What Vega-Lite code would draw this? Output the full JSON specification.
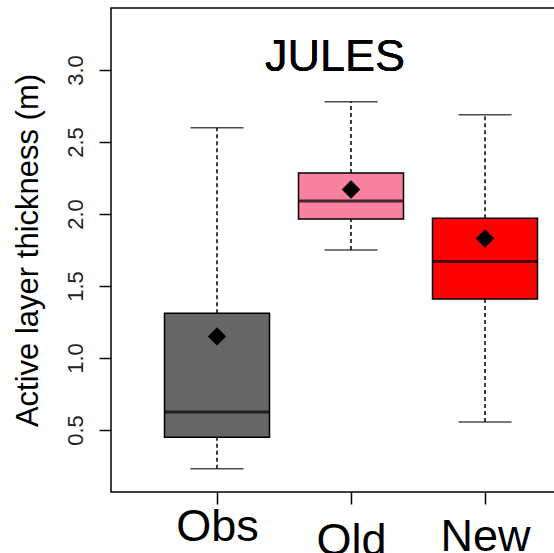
{
  "$schema": "https://vega.github.io/schema/vega-lite/v6.json",
  "autosize": "none",
  "width": 480,
  "height": 484,
  "padding": {"left": 111, "top": 8, "right": 0, "bottom": 61},
  "background": "white",
  "config": {
    "view": {"stroke": "black", "strokeWidth": 1.5},
    "font": "Liberation Sans"
  },
  "data": {
    "values": [
      {"group": "Obs", "lower": 0.23, "q1": 0.45, "median": 0.625, "q3": 1.31, "upper": 2.6, "mean": 1.15},
      {"group": "Old", "lower": 1.75, "q1": 1.965, "median": 2.09, "q3": 2.285, "upper": 2.78, "mean": 2.17},
      {"group": "New", "lower": 0.555, "q1": 1.41, "median": 1.67, "q3": 1.97, "upper": 2.69, "mean": 1.83}
    ]
  },
  "encoding": {
    "x": {
      "field": "group",
      "type": "nominal",
      "sort": ["Obs", "Old", "New"],
      "scale": {"type": "point", "padding": 0.791},
      "axis": {
        "title": null,
        "domain": false,
        "labelAngle": 0,
        "labelFontSize": 45,
        "labelColor": "black",
        "labelFont": "Liberation Sans",
        "tickSize": 12,
        "tickWidth": 1.5,
        "tickColor": "black",
        "labelPadding": {"condition": [{"test": "datum.value === 'Old'", "value": 14}, {"test": "datum.value === 'New'", "value": 10}], "value": 0}
      }
    }
  },
  "layer": [
    {
      "mark": {"type": "rule", "strokeDash": [4, 3], "strokeWidth": 1.5, "color": "black"},
      "encoding": {
        "y": {"field": "lower", "type": "quantitative", "scale": {"domain": [0.069, 3.431], "nice": false, "zero": false},
          "axis": {
            "title": "Active layer thickness (m)",
            "titleFontSize": 31,
            "titleFontWeight": "normal",
            "titleColor": "black",
            "titleFont": "Liberation Sans",
            "titlePadding": 20,
            "values": [0.5, 1.0, 1.5, 2.0, 2.5, 3.0],
            "format": ".1f",
            "labelAngle": -90,
            "labelFontSize": 22,
            "labelColor": "#222222",
            "labelFont": "Liberation Sans",
            "labelPadding": 12,
            "tickSize": 12,
            "tickWidth": 1.5,
            "tickColor": "black",
            "domain": false,
            "grid": false
          }
        },
        "y2": {"field": "q1"}
      }
    },
    {
      "mark": {"type": "rule", "strokeDash": [4, 3], "strokeWidth": 1.5, "color": "black"},
      "encoding": {
        "y": {"field": "q3", "type": "quantitative"},
        "y2": {"field": "upper"}
      }
    },
    {
      "mark": {"type": "tick", "size": 53, "thickness": 1.5, "color": "black"},
      "encoding": {"y": {"field": "lower", "type": "quantitative"}}
    },
    {
      "mark": {"type": "tick", "size": 53, "thickness": 1.5, "color": "black"},
      "encoding": {"y": {"field": "upper", "type": "quantitative"}}
    },
    {
      "mark": {"type": "bar", "size": 105, "stroke": "black", "strokeWidth": 1.5},
      "encoding": {
        "y": {"field": "q1", "type": "quantitative"},
        "y2": {"field": "q3"},
        "fill": {
          "field": "group",
          "type": "nominal",
          "scale": {"domain": ["Obs", "Old", "New"], "range": ["#666666", "#f7819f", "#ff0000"]},
          "legend": null
        }
      }
    },
    {
      "mark": {"type": "tick", "size": 104, "thickness": 3, "color": "black"},
      "encoding": {"y": {"field": "median", "type": "quantitative"}}
    },
    {
      "mark": {"type": "point", "shape": "diamond", "filled": true, "size": 340, "color": "black", "opacity": 1},
      "encoding": {"y": {"field": "mean", "type": "quantitative"}}
    },
    {
      "mark": {"type": "text", "text": "JULES", "fontSize": 45, "font": "Liberation Sans", "color": "black", "align": "center", "baseline": "alphabetic", "dx": -16, "dy": 1},
      "encoding": {
        "x": {"datum": "Old"},
        "y": {"datum": 3.0}
      }
    }
  ]
}
